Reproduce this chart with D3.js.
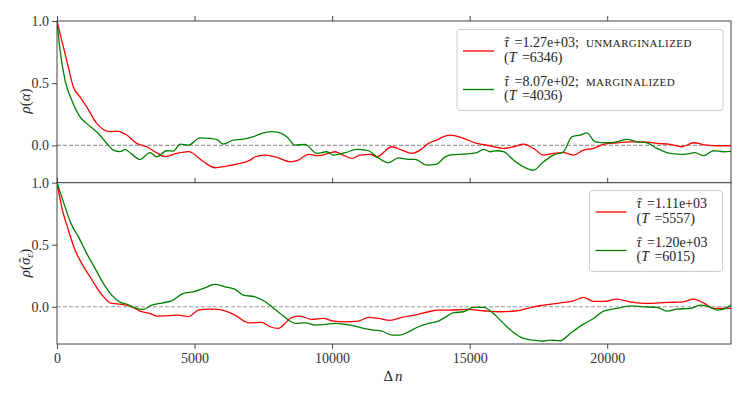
<!DOCTYPE html>
<html>
<head>
<meta charset="utf-8">
<script src="https://cdn.jsdelivr.net/npm/d3@7"></script>
<style>
  body { margin: 0; background: #fff; }
</style>
</head>
<body>
<svg id="fig" width="747" height="399"></svg>
<script>
// autocorrelation of alpha (top panel)
var alphaUnmargLag = [0, 350, 594, 836, 1079, 1443, 1927, 2170, 2534, 2897, 3261, 3625, 3930, 4352, 4776, 5321, 5745, 6170, 6654, 7020, 7200, 7564, 8048, 8473, 8776, 9140, 9503, 9867, 10109, 10352, 10716, 11018, 11382, 11624, 12170, 12534, 12897, 13200, 13503, 13806, 14109, 14291, 14776, 15261, 15745, 16230, 16593, 16957, 17320, 17684, 18048, 18411, 18775, 19138, 19502, 19865, 20350, 20836, 21320, 21807, 22290, 22716, 23138, 23625, 23988, 24500];
var alphaUnmargVal = [1.0, 0.686, 0.47, 0.39, 0.31, 0.177, 0.11, 0.115, 0.083, 0.016, -0.011, -0.059, -0.09, -0.064, -0.05, -0.13, -0.18, -0.166, -0.145, -0.118, -0.092, -0.078, -0.1, -0.132, -0.118, -0.072, -0.083, -0.064, -0.051, -0.072, -0.105, -0.078, -0.072, -0.092, -0.011, -0.038, -0.064, -0.038, 0.016, 0.043, 0.075, 0.083, 0.056, 0.016, -0.003, -0.024, -0.011, 0.01, -0.024, -0.078, -0.064, -0.059, -0.078, -0.038, -0.024, 0.008, 0.021, 0.029, 0.029, 0.016, 0.008, -0.011, 0.021, 0.002, -0.003, -0.003];

var alphaMargLag = [0, 109, 291, 533, 836, 1079, 1503, 1867, 2048, 2290, 2472, 2715, 3018, 3382, 3625, 3988, 4230, 4473, 4776, 5200, 5564, 5807, 6047, 6411, 6775, 7138, 7442, 7806, 8048, 8352, 8655, 9018, 9442, 9806, 10048, 10473, 10897, 11321, 11624, 12048, 12412, 12775, 13018, 13442, 13806, 14109, 14400, 14776, 15261, 15502, 15745, 15988, 16230, 16593, 16957, 17320, 17684, 18048, 18411, 18716, 19018, 19260, 19564, 19988, 20350, 20716, 21080, 21443, 21807, 22290, 22774, 23200, 23502, 23866, 24230, 24500];
var alphaMargVal = [1.0, 0.77, 0.525, 0.364, 0.23, 0.177, 0.096, 0.002, -0.038, -0.05, -0.032, -0.07, -0.113, -0.059, -0.092, -0.043, -0.046, 0.01, 0.002, 0.061, 0.056, 0.048, 0.01, 0.043, 0.05, 0.07, 0.096, 0.11, 0.104, 0.069, 0.002, 0.008, -0.064, -0.051, -0.078, -0.059, -0.032, -0.043, -0.092, -0.14, -0.1, -0.113, -0.113, -0.158, -0.15, -0.092, -0.075, -0.07, -0.059, -0.032, -0.051, -0.043, -0.051, -0.118, -0.172, -0.199, -0.132, -0.078, -0.051, 0.069, 0.083, 0.101, 0.029, 0.021, 0.029, 0.048, 0.029, 0.021, -0.024, -0.064, -0.072, -0.059, -0.083, -0.043, -0.051, -0.048];

// autocorrelation of sigma_eps (bottom panel)
var sigmaUnmargLag = [0, 170, 412, 655, 897, 1200, 1503, 1745, 1927, 2352, 2715, 3078, 3382, 3625, 4048, 4412, 4776, 5140, 5503, 5867, 6473, 6957, 7442, 7745, 8048, 8290, 8535, 8836, 9262, 9685, 10048, 10473, 10957, 11320, 11684, 12109, 12534, 13018, 13503, 13866, 14291, 14897, 15502, 16109, 16716, 17320, 17684, 18291, 18776, 19138, 19502, 19866, 20350, 20836, 21443, 22170, 22774, 23138, 23502, 23866, 24500];
var sigmaUnmargVal = [1.0, 0.806, 0.62, 0.457, 0.35, 0.242, 0.135, 0.068, 0.032, 0.019, 0.0, -0.04, -0.054, -0.075, -0.072, -0.067, -0.08, -0.027, -0.019, -0.021, -0.067, -0.129, -0.126, -0.161, -0.174, -0.134, -0.085, -0.075, -0.102, -0.094, -0.115, -0.121, -0.115, -0.085, -0.094, -0.11, -0.085, -0.067, -0.04, -0.027, -0.027, -0.021, -0.032, -0.04, -0.032, 0.0, 0.013, 0.032, 0.048, 0.076, 0.043, 0.043, 0.062, 0.04, 0.027, 0.035, 0.04, 0.062, 0.032, -0.013, -0.013];

var sigmaMargLag = [0, 170, 533, 776, 1079, 1382, 1685, 1989, 2290, 2533, 2836, 3138, 3444, 3807, 4170, 4593, 4957, 5320, 5745, 6109, 6473, 6775, 7200, 7575, 7880, 8109, 8412, 8655, 9018, 9382, 9745, 10109, 10473, 10836, 11138, 11502, 11807, 12170, 12473, 12776, 13140, 13503, 13866, 14109, 14412, 14776, 15140, 15502, 15866, 16230, 16593, 16957, 17320, 17624, 17927, 18291, 18655, 19138, 19502, 19866, 20350, 20836, 21320, 21807, 22170, 22533, 23018, 23382, 23745, 23988, 24230, 24500];
var sigmaMargVal = [1.0, 0.887, 0.66, 0.565, 0.43, 0.31, 0.189, 0.094, 0.038, 0.022, -0.008, -0.021, 0.014, 0.03, 0.048, 0.108, 0.121, 0.148, 0.18, 0.161, 0.14, 0.094, 0.08, 0.04, -0.013, -0.054, -0.107, -0.134, -0.129, -0.148, -0.142, -0.134, -0.142, -0.156, -0.174, -0.188, -0.196, -0.228, -0.228, -0.202, -0.161, -0.134, -0.115, -0.085, -0.048, -0.04, -0.005, -0.005, -0.054, -0.134, -0.207, -0.255, -0.269, -0.277, -0.269, -0.274, -0.215, -0.14, -0.094, -0.035, -0.013, 0.008, 0.0, -0.005, -0.035, -0.019, -0.013, 0.013, -0.003, -0.027, -0.019, 0.013];

var xTicks = [0, 5000, 10000, 15000, 20000];
var yTicks = [0.0, 0.5, 1.0];

var legendTau = ["1.27e+03", "8.07e+02", "1.11e+03", "1.20e+03"];
var legendT = [6346, 4036, 5557, 6015];
var legendTag = ["UNMARGINALIZED", "MARGINALIZED"];

var colors = ["#ff0000", "#008000"];
var FONT = "'Liberation Serif', 'DejaVu Serif', serif";

var svg = d3.select("#fig");
var left = 57, right = 731;

var x = d3.scaleLinear().domain([0, 24500]).range([left, right]);

function zip(lags, vals) {
    return lags.map(function(d, i) { return [d, vals[i]]; });
}

// puts a hat over character i of a text element (in the text's own coordinates)
function hat(textSel, i, size, lift) {
    var box = textSel.node().getExtentOfChar(i);
    var cx = box.x + box.width / 2 + 1;
    d3.select(textSel.node().parentNode).append("text")
        .attr("x", cx).attr("y", box.y + lift)
        .attr("text-anchor", "middle")
        .style("font-family", FONT).style("font-size", size + "px")
        .attr("fill", "#222")
        .text("ˆ");
}

// one panel of the figure
function panel(top, bottom, series, id, showX) {
    var y = d3.scaleLinear().domain([-0.3, 1.0]).range([bottom, top]);
    var g = svg.append("g");

    g.append("rect")
        .attr("x", left).attr("y", top)
        .attr("width", right - left).attr("height", bottom - top)
        .attr("fill", "#fff");

    g.append("clipPath").attr("id", id)
      .append("rect")
        .attr("x", left).attr("y", top)
        .attr("width", right - left).attr("height", bottom - top);

    // dashed zero line
    g.append("line")
        .attr("x1", left).attr("x2", right)
        .attr("y1", y(0)).attr("y2", y(0))
        .attr("stroke", "#9a9a9a").attr("stroke-width", 1.1)
        .attr("stroke-dasharray", "4,2");

    var line = d3.line()
        .x(function(d) { return x(d[0]); })
        .y(function(d) { return y(d[1]); })
        .curve(d3.curveMonotoneX);

    series.forEach(function(s, i) {
        g.append("path")
            .datum(s)
            .attr("clip-path", "url(#" + id + ")")
            .attr("d", line)
            .attr("fill", "none")
            .attr("stroke", colors[i])
            .attr("stroke-width", 1.3)
            .attr("stroke-linejoin", "round");
    });

    // y axis
    var yAxis = d3.axisLeft(y).tickValues(yTicks).tickFormat(d3.format(".1f")).tickSize(5).tickPadding(3);
    var ya = g.append("g").attr("transform", "translate(" + left + ",0)").call(yAxis);
    ya.select(".domain").remove();

    // ticks on top edge
    var xTop = d3.axisTop(x).tickValues(xTicks).tickSize(5).tickFormat("");
    var xt = g.append("g").attr("transform", "translate(0," + top + ")").call(xTop);
    xt.select(".domain").remove();

    if (showX) {
        var xAxis = d3.axisBottom(x).tickValues(xTicks).tickSize(5).tickPadding(4).tickFormat(d3.format("d"));
        var xa = g.append("g").attr("transform", "translate(0," + bottom + ")").call(xAxis);
        xa.select(".domain").remove();
    }

    g.selectAll(".tick text")
        .style("font-family", FONT).style("font-size", "14px")
        .attr("fill", "#333");
    g.selectAll(".tick line").attr("stroke", "#333").attr("stroke-width", 0.9);

    // frame
    g.append("rect")
        .attr("x", left).attr("y", top)
        .attr("width", right - left).attr("height", bottom - top)
        .attr("fill", "none").attr("stroke", "#444").attr("stroke-width", 1);

    return g;
}

panel(21, 182.7, [zip(alphaUnmargLag, alphaUnmargVal), zip(alphaMargLag, alphaMargVal)], "clipTop", false);
panel(182.7, 344, [zip(sigmaUnmargLag, sigmaUnmargVal), zip(sigmaMargLag, sigmaMargVal)], "clipBot", true);

// axis labels
var g1 = svg.append("g").attr("transform", "translate(30,101) rotate(-90)");
var yl1 = g1.append("text")
    .attr("text-anchor", "middle")
    .style("font-family", FONT).style("font-size", "15px").attr("fill", "#222");
yl1.append("tspan").style("font-style", "italic").text("ρ");
yl1.append("tspan").text("(");
yl1.append("tspan").style("font-style", "italic").text("α");
yl1.append("tspan").text(")");

var g2 = svg.append("g").attr("transform", "translate(30,263) rotate(-90)");
var yl2 = g2.append("text")
    .attr("text-anchor", "middle")
    .style("font-family", FONT).style("font-size", "15px").attr("fill", "#222");
yl2.append("tspan").style("font-style", "italic").text("ρ");
yl2.append("tspan").text("(");
yl2.append("tspan").style("font-style", "italic").text("σ");
yl2.append("tspan").style("font-style", "italic").style("font-size", "10px").attr("dy", 3).text("ε");
yl2.append("tspan").attr("dy", -3).text(")");
hat(yl2, 2, 13, 11);

var xl = svg.append("text")
    .attr("x", 393).attr("y", 381)
    .attr("text-anchor", "middle")
    .style("font-family", FONT).style("font-size", "15px").attr("fill", "#222");
xl.append("tspan").text("Δ");
xl.append("tspan").attr("dx", 2).style("font-style", "italic").text("n");

// legends
function legend(bx, by, bw, bh, entries) {
    var g = svg.append("g");
    g.append("rect")
        .attr("x", bx).attr("y", by).attr("width", bw).attr("height", bh)
        .attr("rx", 3)
        .attr("fill", "#fff").attr("fill-opacity", 0.8)
        .attr("stroke", "#ccc").attr("stroke-width", 1);
    entries.forEach(function(e, i) {
        var base = by + 17.5 + i * 38.5;
        g.append("line")
            .attr("x1", bx + 6).attr("x2", bx + 37)
            .attr("y1", base + 4).attr("y2", base + 4)
            .attr("stroke", colors[i]).attr("stroke-width", 1.3);
        var t1 = g.append("text").attr("x", bx + 47).attr("y", base)
            .style("font-family", FONT).style("font-size", "14px").attr("fill", "#222");
        t1.append("tspan").style("font-style", "italic").text("τ");
        t1.append("tspan").attr("dx", 2).text(" =" + e.tau + (e.tag ? ";" : ""));
        if (e.tag) {
            t1.append("tspan").attr("dx", 7).style("font-size", "11px").style("letter-spacing", "0.4px").text(e.tag);
        }
        hat(t1, 0, 13, 11);
        var t2 = g.append("text").attr("x", bx + 47).attr("y", base + 14.5)
            .style("font-family", FONT).style("font-size", "14px").attr("fill", "#222");
        t2.append("tspan").text("(");
        t2.append("tspan").style("font-style", "italic").text("T");
        t2.append("tspan").attr("dx", 2).text(" =" + e.T + ")");
    });
}

legend(457, 29.5, 266, 81, [
    {tau: legendTau[0], T: legendT[0], tag: legendTag[0]},
    {tau: legendTau[1], T: legendT[1], tag: legendTag[1]}
]);
legend(589.5, 190.5, 133, 81, [
    {tau: legendTau[2], T: legendT[2]},
    {tau: legendTau[3], T: legendT[3]}
]);
</script>
</body>
</html>
